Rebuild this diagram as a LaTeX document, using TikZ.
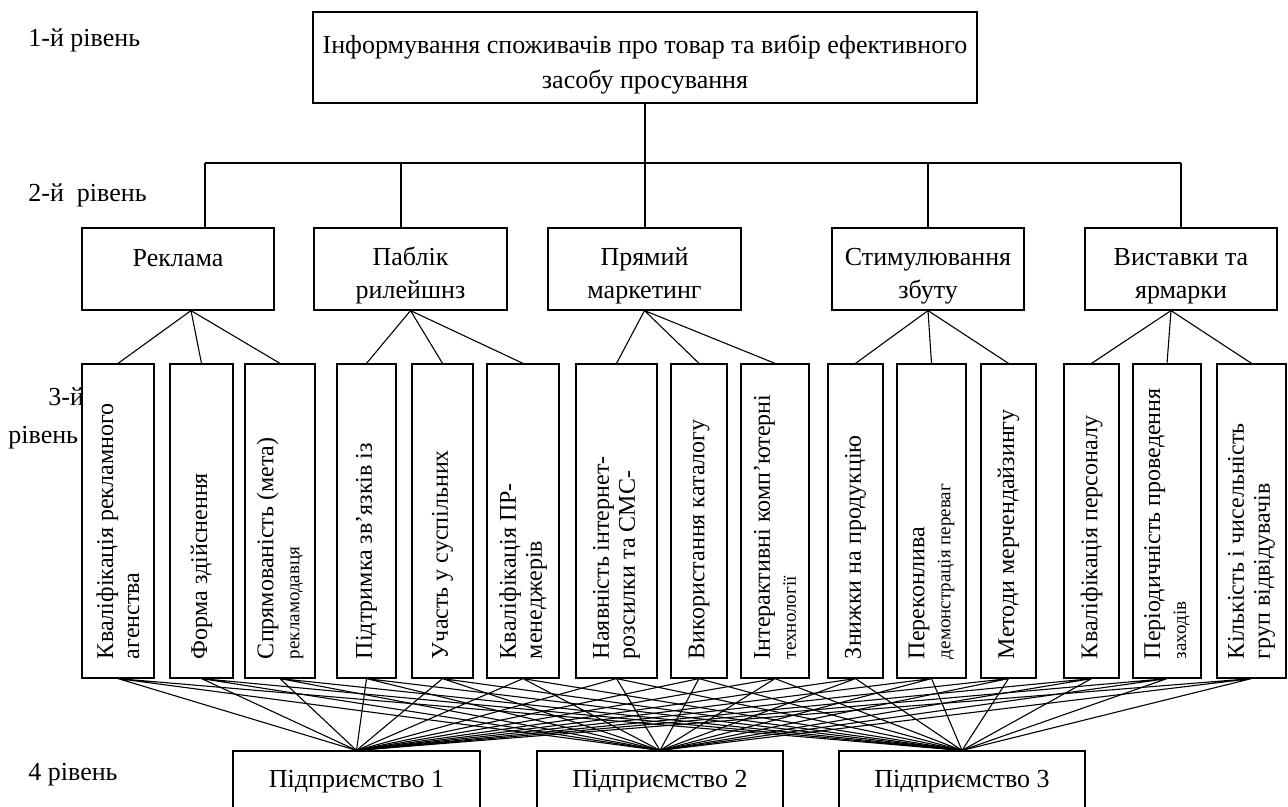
\documentclass[tikz,border=0pt]{standalone}
\usepackage{fontspec}
\setmainfont{Liberation Serif}
\usepackage{graphicx}
\usetikzlibrary{calc}
\newcommand{\factortext}[1]{\rotatebox{90}{\parbox{150pt}{\raggedright\leftskip=6pt #1}}}
\newcommand{\smalltail}[1]{{\fontsize{9.5}{9.5}\selectfont #1}}
\newcommand{\lowerstrut}[1]{\rule{0pt}{#1}}
\begin{document}
\begin{tikzpicture}[x=0.5pt,y=-0.5pt,
    box/.style={draw,line width=0.6pt,inner sep=0pt,align=center,font=\fontsize{13}{16.5}\selectfont},
    factor/.style={draw,line width=0.6pt,inner sep=0pt,minimum height=157pt,font=\fontsize{12}{13}\selectfont},
    lvl/.style={anchor=west,inner sep=0pt,font=\fontsize{13}{15}\selectfont},
    link/.style={line width=0.55pt}]
\useasboundingbox (0,0) rectangle (1288,807);
\clip (0,0) rectangle (1288,807);
% level labels
\node[lvl] (lev1) at (28,40) {1-й рівень};
\node[lvl] (lev2) at (28,195) {2-й\ \ рівень};
\node[lvl] (lev3a) at (48,397) {3-й};
\node[lvl] (lev3b) at (8,438) {рівень};
\node[lvl] (lev4) at (28,775) {4 рівень};
% level 1
\node[box,font=\fontsize{13}{17.5}\selectfont,minimum width=332pt,minimum height=45.5pt] (inform) at (645,57.5)
    {\lowerstrut{16.5pt}Інформування споживачів про товар та вибір ефективного\\засобу просування};
% level 2
\node[box,minimum width=96pt,minimum height=41pt] (rekl) at (178,269) {\lowerstrut{14pt}Реклама\\\mbox{}};
\node[box,minimum width=96.5pt,minimum height=41pt] (pablik) at (410.5,269) {\lowerstrut{15.4pt}Паблік\\рилейшнз};
\node[box,minimum width=96.5pt,minimum height=41pt] (pryam) at (644.5,269) {\lowerstrut{15.4pt}Прямий\\маркетинг};
\node[box,minimum width=96pt,minimum height=41pt] (stym) at (928,269) {\lowerstrut{15.4pt}Стимулювання\\збуту};
\node[box,minimum width=96pt,minimum height=41pt] (vyst) at (1181,269) {\lowerstrut{15.4pt}Виставки та\\ярмарки};
% level 3
\node[factor,minimum width=36pt] (k1) at (118,521) {\factortext{Кваліфікація рекламного\\агенства}};
\node[factor,minimum width=31.5pt] (k2) at (201.5,521) {\factortext{Форма здійснення}};
\node[factor,minimum width=35pt] (k3) at (280,521) {\factortext{Спрямованість (мета)\\\smalltail{рекламодавця}}};
\node[factor,minimum width=29.5pt] (k4) at (366.5,521) {\factortext{Підтримка зв’язків із}};
\node[factor,minimum width=30.5pt] (k5) at (442.5,521) {\factortext{Участь у суспільних}};
\node[factor,minimum width=36pt] (k6) at (523,521) {\factortext{Кваліфікація ПР-\\менеджерів}};
\node[factor,minimum width=40.5pt] (k7) at (616.5,521) {\factortext{Наявність інтернет-\\розсилки та СМС-}};
\node[factor,minimum width=28pt] (k8) at (699,521) {\factortext{Використання каталогу}};
\node[factor,minimum width=34pt] (k9) at (775,521) {\factortext{Інтерактивні комп’ютерні\\\smalltail{технології}}};
\node[factor,minimum width=27.5pt] (k10) at (855.5,521) {\factortext{Знижки на продукцію}};
\node[factor,minimum width=34.5pt] (k11) at (931.5,521) {\factortext{Переконлива\\\smalltail{демонстрація переваг}}};
\node[factor,minimum width=27.5pt] (k12) at (1008.5,521) {\factortext{Методи мерчендайзингу}};
\node[factor,minimum width=27.5pt] (k13) at (1091.5,521) {\factortext{Кваліфікація персоналу}};
\node[factor,minimum width=34pt] (k14) at (1167,521) {\factortext{Періодичність проведення\\\smalltail{заходів}}};
\node[factor,minimum width=34.5pt] (k15) at (1251.5,521) {\factortext{Кількість і чисельність\\груп відвідувачів}};
% level 4
\node[box,minimum width=123.5pt,minimum height=31pt] (pid1) at (356.5,782) {Підприємство 1};
\node[box,minimum width=123pt,minimum height=31pt] (pid2) at (660,782) {Підприємство 2};
\node[box,minimum width=123pt,minimum height=31pt] (pid3) at (962,782) {Підприємство 3};
% level 1 -- level 2
\coordinate (busl) at (205,163);
\coordinate (bus2) at (401,163);
\coordinate (rekl-o) at ($(rekl.south)+(13,0)$);
\coordinate (vyst-o) at ($(vyst.south)+(-10,0)$);
\draw[link] (inform.south) -- (inform.south |- pryam.north);
\draw[link] (busl) -- (vyst.north |- busl);
\draw[link] (busl) -- (busl |- rekl.north);
\draw[link] (bus2) -- (bus2 |- pablik.north);
\draw[link] (stym.north |- busl) -- (stym.north);
\draw[link] (vyst.north |- busl) -- (vyst.north);
% level 2 -- level 3
\draw[link] (rekl-o) -- (k1.north) (rekl-o) -- (k2.north) (rekl-o) -- (k3.north);
\draw[link] (pablik.south) -- (k4.north) (pablik.south) -- (k5.north) (pablik.south) -- (k6.north);
\draw[link] (pryam.south) -- (k7.north) (pryam.south) -- (k8.north) (pryam.south) -- (k9.north);
\draw[link] (stym.south) -- (k10.north) (stym.south) -- (k11.north) (stym.south) -- (k12.north);
\draw[link] (vyst-o) -- (k13.north) (vyst-o) -- (k14.north) (vyst-o) -- (k15.north);
% level 3 -- level 4
\draw[link] (k1.south) -- (pid1.north) (k1.south) -- (pid2.north) (k1.south) -- (pid3.north);
\draw[link] (k2.south) -- (pid1.north) (k2.south) -- (pid2.north) (k2.south) -- (pid3.north);
\draw[link] (k3.south) -- (pid1.north) (k3.south) -- (pid2.north) (k3.south) -- (pid3.north);
\draw[link] (k4.south) -- (pid1.north) (k4.south) -- (pid2.north) (k4.south) -- (pid3.north);
\draw[link] (k5.south) -- (pid1.north) (k5.south) -- (pid2.north) (k5.south) -- (pid3.north);
\draw[link] (k6.south) -- (pid1.north) (k6.south) -- (pid2.north) (k6.south) -- (pid3.north);
\draw[link] (k7.south) -- (pid1.north) (k7.south) -- (pid2.north) (k7.south) -- (pid3.north);
\draw[link] (k8.south) -- (pid1.north) (k8.south) -- (pid2.north) (k8.south) -- (pid3.north);
\draw[link] (k9.south) -- (pid1.north) (k9.south) -- (pid2.north) (k9.south) -- (pid3.north);
\draw[link] (k10.south) -- (pid1.north) (k10.south) -- (pid2.north) (k10.south) -- (pid3.north);
\draw[link] (k11.south) -- (pid1.north) (k11.south) -- (pid2.north) (k11.south) -- (pid3.north);
\draw[link] (k12.south) -- (pid1.north) (k12.south) -- (pid2.north) (k12.south) -- (pid3.north);
\draw[link] (k13.south) -- (pid1.north) (k13.south) -- (pid2.north) (k13.south) -- (pid3.north);
\draw[link] (k14.south) -- (pid1.north) (k14.south) -- (pid2.north) (k14.south) -- (pid3.north);
\draw[link] (k15.south) -- (pid1.north) (k15.south) -- (pid2.north) (k15.south) -- (pid3.north);
\end{tikzpicture}
\end{document}
